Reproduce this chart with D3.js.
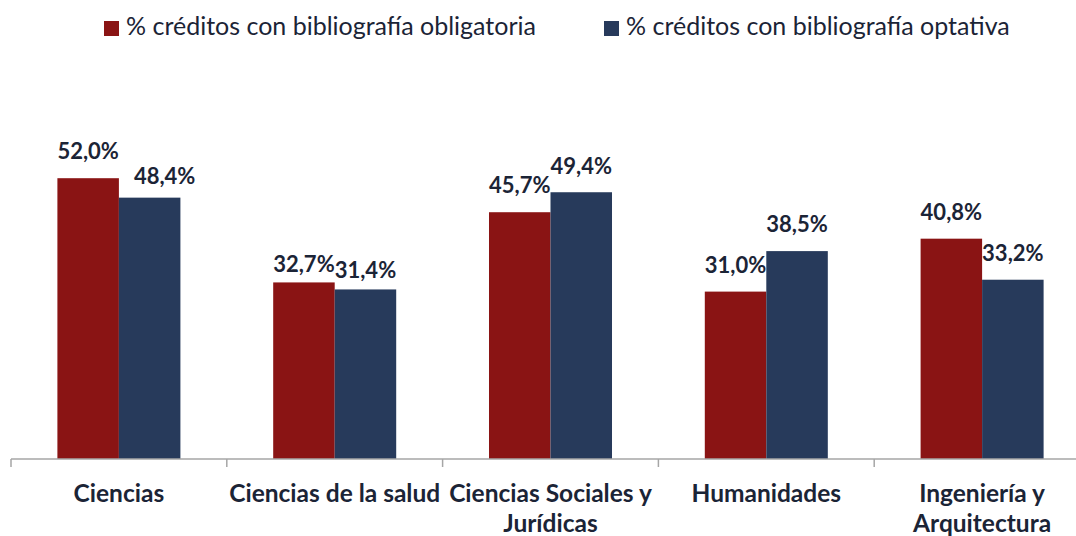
<!DOCTYPE html>
<html>
<head>
<meta charset="utf-8">
<script src="https://cdn.jsdelivr.net/npm/d3@7"></script>
<style>
  body { margin: 0; background: #fff; }
  svg { display: block; font-family: Lato, "Open Sans", sans-serif; }
</style>
</head>
<body>
<div id="chart"></div>
<script>
const categories = ["Ciencias", "Ciencias de la salud", "Ciencias Sociales y Jurídicas", "Humanidades", "Ingeniería y Arquitectura"];
const tickLabels = [["Ciencias"], ["Ciencias de la salud"], ["Ciencias Sociales y", "Jurídicas"], ["Humanidades"], ["Ingeniería y", "Arquitectura"]];
const seriesNames = ["% créditos con bibliografía obligatoria", "% créditos con bibliografía optativa"];
const obligatoria = [52.0, 32.7, 45.7, 31.0, 40.8];
const optativa = [48.4, 31.4, 49.4, 38.5, 33.2];

// label tweaks where the original labels were moved by hand (dx, dy in px)
const labelNudge = [
  [[0, 0], [0, 9], [0, 0], [0, 0], [0, 0]],
  [[15, 5], [0, 8], [0, 1], [0, 0], [0, 0]],
];

const W = 1076, H = 536;
const colors = ["#8a1414", "#273a5b"];
const textColor = "#1b2436";

const svg = d3.select("#chart").append("svg")
  .attr("width", W).attr("height", H);

const x0 = d3.scaleBand()
  .domain(categories)
  .range([11, 1090])
  .paddingInner(0.43)
  .paddingOuter(0.215);

const x1 = d3.scaleBand()
  .domain([0, 1])
  .range([0, x0.bandwidth()]);

const y = d3.scaleLinear().domain([0, 60]).range([459, 135]);

const series = [obligatoria, optativa];

// bars
series.forEach((vals, s) => {
  svg.append("g")
    .selectAll("rect")
    .data(vals)
    .join("rect")
    .attr("x", (d, i) => x0(categories[i]) + x1(s))
    .attr("y", (d) => y(d))
    .attr("width", x1.bandwidth())
    .attr("height", (d) => y(0) - y(d))
    .attr("fill", colors[s]);
});

// axis
const axis = svg.append("g").attr("transform", `translate(0,${y(0)})`);
axis.append("line")
  .attr("x1", 11).attr("x2", 1090)
  .attr("stroke", "#a6a6a6").attr("stroke-width", 1.5);
const step = x0.step();
d3.range(categories.length + 1).forEach((i) => {
  const tx = 11 + i * step;
  axis.append("line")
    .attr("x1", tx).attr("x2", tx)
    .attr("y1", 0).attr("y2", 8)
    .attr("stroke", "#a6a6a6").attr("stroke-width", 1.5);
});

// category labels
categories.forEach((c, i) => {
  const cx = x0(c) + x0.bandwidth() / 2;
  const t = svg.append("text")
    .attr("x", cx)
    .attr("y", 502)
    .attr("text-anchor", "middle")
    .attr("font-size", "24.5px")
    .attr("font-weight", "700")
    .attr("fill", textColor);
  tickLabels[i].forEach((line, j) => {
    t.append("tspan")
      .attr("x", cx)
      .attr("dy", j === 0 ? 0 : 30)
      .text(line);
  });
});

// value labels
series.forEach((vals, s) => {
  svg.append("g")
    .selectAll("text")
    .data(vals)
    .join("text")
    .attr("x", (d, i) => x0(categories[i]) + x1(s) + x1.bandwidth() / 2 + labelNudge[s][i][0])
    .attr("y", (d, i) => y(d) - 19 + labelNudge[s][i][1])
    .attr("text-anchor", "middle")
    .attr("font-size", "22px")
    .attr("font-weight", "700")
    .attr("fill", textColor)
    .text((d) => d.toFixed(1).replace(".", ",") + "%");
});

// legend
const legendX = [104, 604];
seriesNames.forEach((name, s) => {
  const g = svg.append("g").attr("transform", `translate(${legendX[s]},21)`);
  g.append("rect")
    .attr("width", 15).attr("height", 15)
    .attr("fill", colors[s]);
  g.append("text")
    .attr("x", 22).attr("y", 13.5)
    .attr("font-size", "25px")
    .attr("fill", textColor)
    .text(name);
});
</script>
</body>
</html>
